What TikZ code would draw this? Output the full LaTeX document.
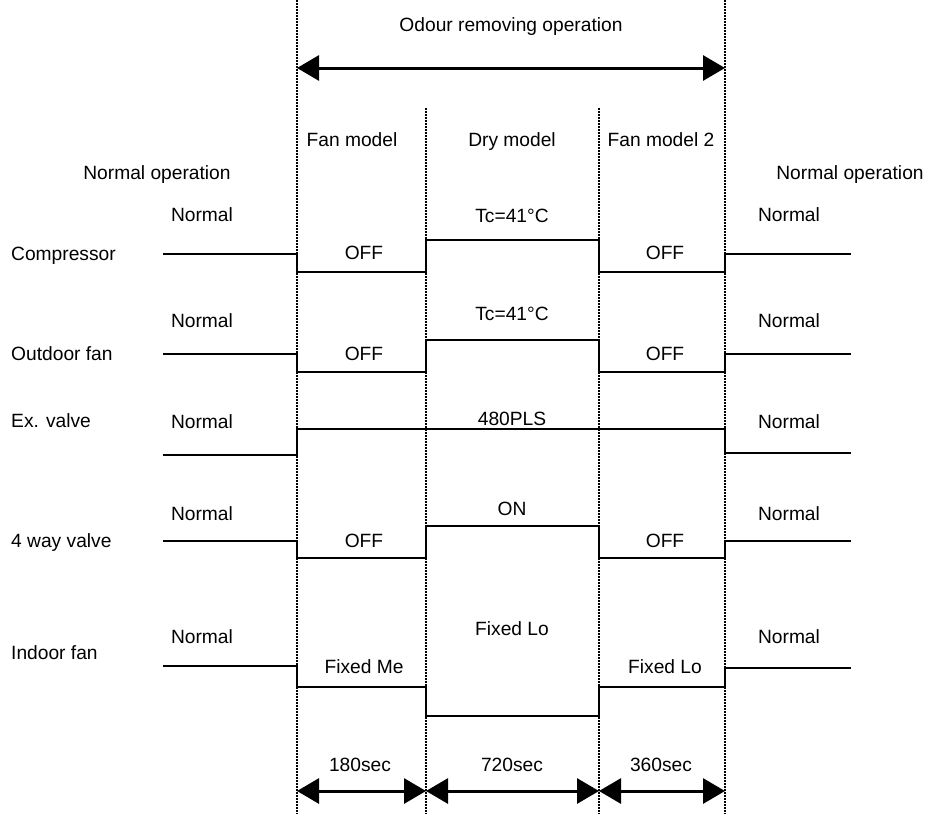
\documentclass[tikz,border=0pt]{standalone}
\usepackage{fontspec}
\setmainfont{Liberation Sans}
\usetikzlibrary{arrows.meta}
\begin{document}
\begin{tikzpicture}[x=1pt,y=-1pt,
  txt/.style={font=\fontsize{19.2}{23}\selectfont, inner sep=0pt, text height=13.6pt, text depth=0pt},
  sig/.style={line width=2.8pt, line join=miter},
  guide/.style={line width=2pt, dash pattern=on 1.6pt off 1.4pt},
  span/.style={line width=3pt, {Triangle[length=22pt,width=25pt]}-{Triangle[length=22pt,width=25pt]}}]
\useasboundingbox (0,0) rectangle (928,814);

% phase boundaries
\coordinate (b1top) at (297,0);   \coordinate (b1bot) at (297,814);
\coordinate (b2top) at (426,108); \coordinate (b2bot) at (426,814);
\coordinate (b3top) at (599,108); \coordinate (b3bot) at (599,814);
\coordinate (b4top) at (725,0);   \coordinate (b4bot) at (725,814);
\foreach \n in {1,2,3,4} \draw[guide] (b\n top) -- (b\n bot);

% overall span
\coordinate (odL) at (297,68);
\coordinate (odR) at (725,68);
\draw[span] (odL) -- (odR);
\node[txt] (odour) at (511,25) {Odour removing operation};

% phase headings
\node[txt] (hfan1) at (352,140) {Fan model};
\node[txt] (hdry)  at (512,140) {Dry model};
\node[txt] (hfan2) at (661,140) {Fan model 2};
\node[txt] (nopL)  at (157,173) {Normal operation};
\node[txt] (nopR)  at (850,173) {Normal operation};

% signal names
\node[txt, anchor=west] (lcomp) at (11,254) {Compressor};
\node[txt, anchor=west] (lofan) at (11,354) {Outdoor fan};
\node[txt, anchor=west] (lexv)  at (11,421) {Ex. valve};
\node[txt, anchor=west] (l4wv)  at (11,541) {4 way valve};
\node[txt, anchor=west] (lifan) at (11,653) {Indoor fan};

% compressor
\draw[sig] (163,254) -- (297,254) -- (297,272) -- (426,272) -- (426,240) -- (599,240)
  -- (599,272) -- (725,272) -- (725,254) -- (851,254);
\node[txt] (c1) at (202,215) {Normal};
\node[txt] (c2) at (364,253) {OFF};
\node[txt] (c3) at (512,216) {Tc=41°C};
\node[txt] (c4) at (665,253) {OFF};
\node[txt] (c5) at (789,215) {Normal};

% outdoor fan
\draw[sig] (163,354) -- (297,354) -- (297,372) -- (426,372) -- (426,340) -- (599,340)
  -- (599,372) -- (725,372) -- (725,354) -- (851,354);
\node[txt] (o1) at (202,321) {Normal};
\node[txt] (o2) at (364,354) {OFF};
\node[txt] (o3) at (512,314) {Tc=41°C};
\node[txt] (o4) at (665,354) {OFF};
\node[txt] (o5) at (789,321) {Normal};

% expansion valve
\draw[sig] (163,455) -- (297,455) -- (297,429) -- (725,429) -- (725,453) -- (851,453);
\node[txt] (e1) at (202,422) {Normal};
\node[txt] (e2) at (512,419) {480PLS};
\node[txt] (e3) at (789,422) {Normal};

% 4 way valve
\draw[sig] (163,541) -- (297,541) -- (297,558) -- (426,558) -- (426,526) -- (599,526)
  -- (599,558) -- (725,558) -- (725,541) -- (851,541);
\node[txt] (f1) at (202,514) {Normal};
\node[txt] (f2) at (364,541) {OFF};
\node[txt] (f3) at (512,509) {ON};
\node[txt] (f4) at (665,541) {OFF};
\node[txt] (f5) at (789,514) {Normal};

% indoor fan
\draw[sig] (163,666) -- (297,666) -- (297,687) -- (426,687) -- (426,716) -- (599,716)
  -- (599,687) -- (725,687) -- (725,668) -- (851,668);
\node[txt] (i1) at (202,637) {Normal};
\node[txt] (i2) at (364,667) {Fixed Me};
\node[txt] (i3) at (512,629) {Fixed Lo};
\node[txt] (i4) at (665,667) {Fixed Lo};
\node[txt] (i5) at (789,637) {Normal};

% phase durations
\coordinate (d1) at (297,791);
\coordinate (d2) at (426,791);
\coordinate (d3) at (599,791);
\coordinate (d4) at (725,791);
\draw[span] (d1) -- (d2);
\draw[span] (d2) -- (d3);
\draw[span] (d3) -- (d4);
\node[txt] (t1) at (360,765) {180sec};
\node[txt] (t2) at (512,765) {720sec};
\node[txt] (t3) at (661,765) {360sec};
\end{tikzpicture}
\end{document}
